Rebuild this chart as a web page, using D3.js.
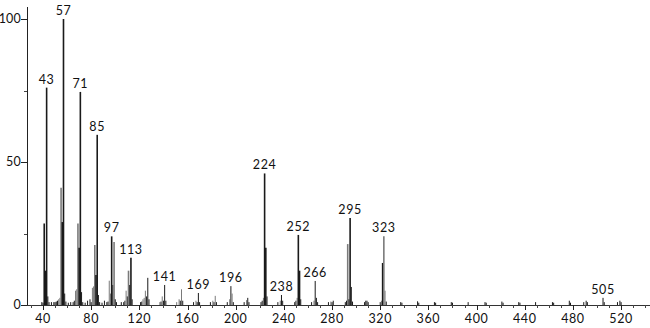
<!DOCTYPE html>
<html>
<head>
<meta charset="utf-8">
<script src="https://cdn.jsdelivr.net/npm/d3@7"></script>
<style>
  body { margin: 0; background: #fff; }
  text { font-family: Lato, "DejaVu Sans", sans-serif; font-size: 12.5px; letter-spacing: 0.6px; fill: #111; }
  text.ylab { letter-spacing: 0.2px; }
</style>
</head>
<body>
<div id="vis"></div>
<script>
// m/z and relative intensity of each peak
var mz = [39, 40, 41, 42, 43, 44, 45, 47, 49, 50, 51, 52, 53, 54, 55, 56, 57, 58, 59, 61, 63, 65, 66,
  67, 68, 69, 70, 71, 72, 73, 75, 77, 79, 80, 81, 82, 83, 84, 85, 86, 87, 89, 91, 93, 94, 95, 96, 97, 98, 99,
  100, 101, 105, 107, 108, 109, 110, 111, 112, 113, 114, 121, 122, 123, 124, 125, 126, 127, 128,
  137, 138, 139, 140, 141, 142, 151, 153, 154, 155, 156, 165, 167, 168, 169, 170, 179, 181, 182, 183, 184,
  193, 195, 196, 197, 198, 207, 209, 210, 211, 221, 222, 223, 224, 225, 226, 235, 237, 238, 239, 249, 250, 251,
  252, 253, 254, 263, 265, 266, 267, 268, 277, 279, 280, 281, 291, 292, 293, 294, 295, 296, 297, 307, 308, 309,
  310, 320, 321, 322, 323, 324, 325, 337, 338, 351, 352, 365, 366, 379, 380, 393, 407, 408, 421, 422, 435, 436,
  449, 463, 464, 477, 478, 489, 491, 492, 505, 506, 517, 519, 520];
var intensity = [1, 0.8, 28.5, 12, 76, 3, 1, 1, 1, 1, 1.2, 1.5, 2, 2.5, 41, 29, 100, 4, 1.2, 0.8, 1, 1, 1.5,
  5, 5.5, 28.5, 20, 74.5, 4.5, 1, 0.8, 1.5, 2, 1, 6, 6.5, 21, 10.5, 59.5, 3.5, 1, 0.8, 1.5, 1, 1.2, 8.5, 4, 24, 7, 22,
  2, 1, 1, 1, 1.5, 5, 3, 12, 7, 16.5, 2, 1, 1.2, 2, 2.5, 5, 3, 9.5, 2,
  1, 1.2, 3, 1.5, 7, 1.5, 1, 2, 1.5, 5.5, 1.5, 1, 1.5, 1, 4.2, 1, 1, 1.5, 1, 3.2, 1,
  1, 2, 6.6, 4, 1, 1, 1.7, 2.5, 1, 1, 1.5, 2.5, 46, 20, 3, 1, 1.5, 3.5, 1.5, 1, 1.5, 2.5,
  24.5, 12, 2, 1, 1.5, 8.4, 2.5, 1, 1, 1.2, 1, 1.5, 1, 1.5, 21.3, 2, 30.4, 6.3, 1.2, 1, 1.5, 1.5,
  1, 1, 1.5, 14.7, 24, 5, 1.2, 1, 0.8, 1.3, 0.8, 1, 0.8, 1, 0.8, 1, 1, 0.8, 1.2, 0.8, 1, 0.8,
  1, 1, 0.8, 1.5, 0.8, 1, 1.5, 1, 2.5, 1, 1, 1.5, 1];
// peaks drawn in grey rather than black
var greyMz = [53, 54, 55, 67, 68, 69, 81, 82, 83, 95, 96, 99, 109, 111, 123, 124, 125, 137, 139, 151, 153, 155,
  167, 181, 183, 195, 197, 209, 223, 237, 251, 265, 279, 293, 321, 323, 324];
var labelMz = [43, 57, 71, 85, 97, 113, 141, 169, 196, 224, 238, 252, 266, 295, 323, 505];
var yTicks = [0, 50, 100];
var yMinor = [25, 75];
var xTicks = d3.range(40, 521, 40);
var xMinor = d3.range(30, 541, 10);

var W = 650, H = 328;
var svg = d3.select("#vis").append("svg")
  .attr("width", W).attr("height", H);

var x = d3.scaleLinear().domain([26.7, 544]).range([27, 650]);
var y = d3.scaleLinear().domain([0, 100]).range([305, 19]);

var peaks = mz.map(function(m, i) {
  return { mz: m, v: intensity[i], grey: greyMz.indexOf(m) >= 0 };
});

// axes
svg.append("line")
  .attr("x1", 27.5).attr("x2", 27.5).attr("y1", 7).attr("y2", y(0))
  .attr("stroke", "#222").attr("stroke-width", 1);
svg.append("line")
  .attr("x1", 27).attr("x2", W).attr("y1", y(0) + 0.5).attr("y2", y(0) + 0.5)
  .attr("stroke", "#333").attr("stroke-width", 1);

svg.selectAll(".ytick").data(yTicks).enter().append("line")
  .attr("x1", 21).attr("x2", 27)
  .attr("y1", function(d) { return Math.round(y(d)) + 0.5; })
  .attr("y2", function(d) { return Math.round(y(d)) + 0.5; })
  .attr("stroke", "#222");
svg.selectAll(".yminor").data(yMinor).enter().append("line")
  .attr("x1", 24).attr("x2", 27)
  .attr("y1", function(d) { return Math.round(y(d)) + 0.5; })
  .attr("y2", function(d) { return Math.round(y(d)) + 0.5; })
  .attr("stroke", "#444");
svg.selectAll(".ylab").data(yTicks).enter().append("text")
  .attr("class", "ylab")
  .attr("x", 21).attr("y", function(d) { return y(d) + 4; })
  .attr("text-anchor", "end")
  .text(function(d) { return d; });

svg.selectAll(".xminor").data(xMinor).enter().append("line")
  .attr("x1", function(d) { return Math.round(x(d)) + 0.5; })
  .attr("x2", function(d) { return Math.round(x(d)) + 0.5; })
  .attr("y1", y(0)).attr("y2", y(0) + 3)
  .attr("stroke", "#444");
svg.selectAll(".xtick").data(xTicks).enter().append("line")
  .attr("x1", function(d) { return Math.round(x(d)) + 0.5; })
  .attr("x2", function(d) { return Math.round(x(d)) + 0.5; })
  .attr("y1", y(0)).attr("y2", y(0) + 5)
  .attr("stroke", "#222");
svg.selectAll(".xlab").data(xTicks).enter().append("text")
  .attr("x", function(d) { return x(d); }).attr("y", 323)
  .attr("text-anchor", "middle")
  .text(function(d) { return d; });

// peaks
svg.selectAll(".peak").data(peaks).enter().append("line")
  .classed("peak", true)
  .attr("x1", function(d) { return x(d.mz); })
  .attr("x2", function(d) { return x(d.mz); })
  .attr("y1", y(0))
  .attr("y2", function(d) { return y(d.v); })
  .attr("stroke", function(d) { return d.grey ? "#7a7a7a" : "#1a1a1a"; })
  .attr("stroke-width", function(d) { return d.v > 10 ? 1.6 : 1; });

svg.selectAll(".plab").data(peaks.filter(function(d) { return labelMz.indexOf(d.mz) >= 0; }))
  .enter().append("text")
  .attr("x", function(d) { return x(d.mz); })
  .attr("y", function(d) { return y(d.v) - 4; })
  .attr("text-anchor", "middle")
  .text(function(d) { return d.mz; });
</script>
</body>
</html>
